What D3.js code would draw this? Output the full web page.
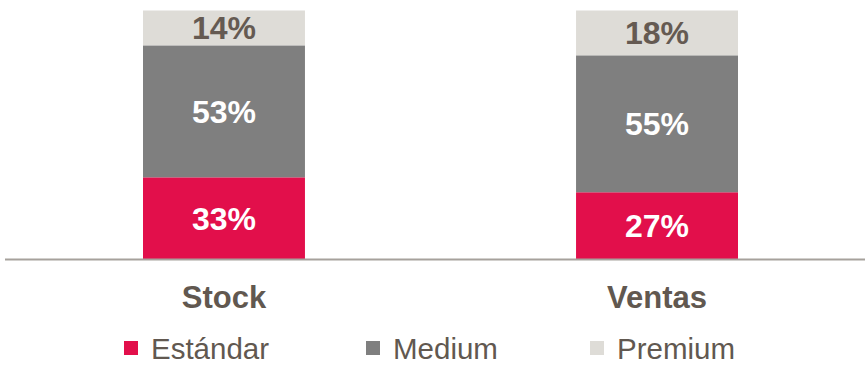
<!DOCTYPE html>
<html>
<head>
<meta charset="utf-8">
<script src="https://cdn.jsdelivr.net/npm/d3@7/dist/d3.min.js"></script>
<style>
  html, body { margin: 0; padding: 0; background: #ffffff; }
  svg { display: block; font-family: "Liberation Sans", Arial, sans-serif; }
</style>
</head>
<body>
<svg id="chart" width="865" height="365"></svg>
<script>
// Share of each segment (percent) per category
const categories = ["Stock", "Ventas"];
const seriesNames = ["Estándar", "Medium", "Premium"];
const estandar = [33, 27];
const medium = [53, 55];
const premium = [14, 18];

const colors = { "Estándar": "#e20f4b", "Medium": "#7f7f7f", "Premium": "#dedcd7" };
const labelColors = { "Estándar": "#ffffff", "Medium": "#ffffff", "Premium": "#655a52" };
const textColor = "#615850";

const rows = categories.map((c, i) => ({
  category: c,
  "Estándar": estandar[i],
  "Medium": medium[i],
  "Premium": premium[i]
}));

const svg = d3.select("#chart");

const x = d3.scaleBand()
  .domain(categories)
  .range([143, 738])
  .paddingInner(0.626)
  .paddingOuter(0);

const y = d3.scaleLinear().domain([0, 100]).range([259.5, 10.5]);

const stacked = d3.stack().keys(seriesNames)(rows);

const layers = svg.append("g").selectAll("g")
  .data(stacked)
  .join("g")
  .attr("fill", d => colors[d.key]);

layers.selectAll("rect")
  .data(d => d.map(p => Object.assign(p, { key: d.key })))
  .join("rect")
  .attr("x", d => x(d.data.category))
  .attr("width", x.bandwidth())
  .attr("y", d => y(d[1]))
  .attr("height", d => y(d[0]) - y(d[1]));

// Value labels centred in each segment
layers.selectAll("text")
  .data(d => d)
  .join("text")
  .attr("x", d => x(d.data.category) + x.bandwidth() / 2)
  .attr("y", d => (y(d[0]) + y(d[1])) / 2)
  .attr("dy", "0.36em")
  .attr("text-anchor", "middle")
  .attr("font-size", 32)
  .attr("font-weight", "bold")
  .attr("fill", d => labelColors[d.key])
  .text(d => (d[1] - d[0]) + "%");

// Baseline axis with category names
const axis = d3.axisBottom(x).tickSize(0).tickPadding(26);
const axisG = svg.append("g")
  .attr("transform", `translate(0,${y(0)})`)
  .call(axis);
axisG.select(".domain").attr("stroke", "#a6a19c").attr("stroke-width", 2)
  .attr("d", "M5,0H865");
axisG.selectAll(".tick text")
  .attr("font-size", 31)
  .attr("font-weight", "bold")
  .attr("font-family", "'Liberation Sans', Arial, sans-serif")
  .attr("fill", textColor);

// Legend
const legendX = [124, 366, 590];
const legend = svg.append("g").selectAll("g")
  .data(seriesNames)
  .join("g")
  .attr("transform", (d, i) => `translate(${legendX[i]},341)`);
legend.append("rect")
  .attr("width", 14).attr("height", 14)
  .attr("fill", d => colors[d]);
legend.append("text")
  .attr("x", 27)
  .attr("y", 7)
  .attr("dy", "0.36em")
  .attr("font-size", 29.5)
  .attr("fill", textColor)
  .text(d => d);
</script>
</body>
</html>
